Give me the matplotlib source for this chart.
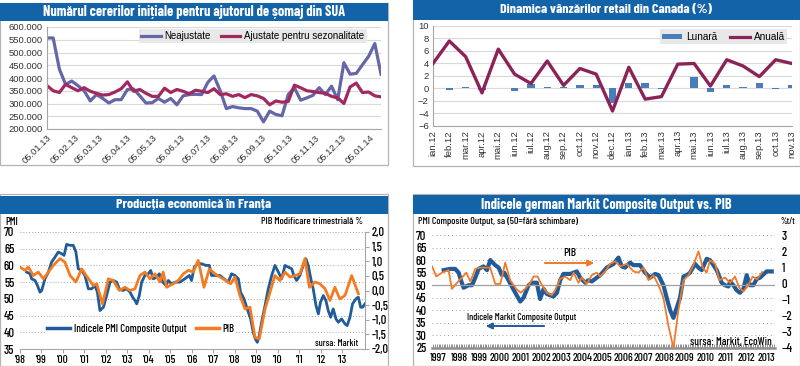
import numpy as np
import pandas as pd
import matplotlib
matplotlib.use('Agg')
import matplotlib.pyplot as plt
import matplotlib.dates as mdates
from matplotlib.patches import Rectangle, FancyArrowPatch, Patch
from matplotlib.lines import Line2D
from matplotlib.ticker import FuncFormatter

# ---------------- date ----------------
# SUA - cereri initiale de ajutor de somaj (saptamanal)
claims_dates = pd.date_range('2013-01-05', periods=55, freq='7D')
claims_nsa = [557, 557, 435, 375, 388, 370, 350, 310, 335, 320, 302, 315, 315, 355,
              357, 330, 302, 303, 320, 305, 320, 295, 330, 335, 336, 335, 383, 408,
              350, 280, 288, 283, 280, 280, 270, 228, 270, 257, 252, 335, 362, 313,
              322, 332, 362, 335, 368, 315, 460, 415, 418, 452, 485, 535, 415]
claims_sa = [370, 350, 343, 375, 362, 350, 362, 348, 340, 333, 335, 345, 358, 385,
             348, 355, 340, 328, 328, 360, 343, 355, 348, 338, 352, 348, 343, 358,
             335, 338, 328, 335, 323, 335, 330, 320, 295, 310, 305, 308, 372, 362,
             350, 347, 343, 340, 328, 322, 300, 365, 380, 343, 345, 330, 326]

# Canada - vanzari retail (%)
ca_months = ['ian.12', 'feb.12', 'mar.12', 'apr.12', 'mai.12', 'iun.12', 'iul.12',
             'aug.12', 'sep.12', 'oct.12', 'nov.12', 'dec.12', 'ian.13', 'feb.13',
             'mar.13', 'apr.13', 'mai.13', 'iun.13', 'iul.13', 'aug.13', 'sep.13',
             'oct.13', 'nov.13']
ca_lunara = [0.05, -0.3, 0.2, -0.3, 0.15, -0.4, 0.7, 0.2, 0.2, 0.5, 0.5, -2.3,
             0.9, 0.9, -0.1, 0.15, 1.8, -0.6, 0.5, 0.2, 0.9, -0.1, 0.6]
ca_anuala = [4.0, 7.6, 5.1, -0.7, 6.3, 2.3, 0.8, 4.4, 0.5, 3.2, 2.3, -3.6,
             3.4, -1.7, -1.3, 3.9, 4.0, 0.4, 4.6, 3.6, 1.9, 4.6, 4.0]

# Franta - PMI composite (lunar) si PIB (trimestrial, %)
fr_pmi_t = [1998.31, 1998.47, 1998.54, 1998.70, 1998.81, 1998.93, 1999.01, 1999.16,
            1999.32, 1999.47, 1999.63, 1999.78, 1999.94, 2000.05, 2000.17, 2000.33,
            2000.48, 2000.60, 2000.71, 2000.87, 2001.02, 2001.18, 2001.33, 2001.49,
            2001.60, 2001.72, 2001.88, 2002.03, 2002.19, 2002.34, 2002.50, 2002.62,
            2002.78, 2002.96, 2003.12, 2003.24, 2003.35, 2003.43, 2003.55, 2003.66,
            2003.81, 2003.97, 2004.08, 2004.20, 2004.36, 2004.48, 2004.64, 2004.79,
            2004.90, 2005.05, 2005.21, 2005.44, 2005.67, 2005.88, 2005.98, 2006.11,
            2006.26, 2006.45, 2006.65, 2006.81, 2006.91, 2007.12, 2007.30, 2007.49,
            2007.69, 2007.84, 2008.00, 2008.16, 2008.26, 2008.42, 2008.57, 2008.73,
            2008.85, 2008.95, 2009.04, 2009.13, 2009.24, 2009.40, 2009.55, 2009.71,
            2009.86, 2010.02, 2010.17, 2010.33, 2010.48, 2010.64, 2010.74, 2010.87,
            2011.02, 2011.15, 2011.30, 2011.41, 2011.53, 2011.64, 2011.77, 2011.88,
            2011.98, 2012.11, 2012.23, 2012.34, 2012.45, 2012.57, 2012.70, 2012.81,
            2012.96, 2013.12, 2013.22, 2013.35, 2013.47, 2013.63, 2013.74, 2013.85,
            2013.94, 2014.05]
fr_pmi = [58, 57.5, 56, 55.5, 54, 52, 52.5, 56, 58, 61, 62.5, 64, 63.5, 63, 66.3, 66,
          66, 64, 59, 58.5, 57, 53, 53, 54, 52, 46.5, 47.5, 51, 55, 55.5, 55, 53,
          52.5, 53, 52, 50.5, 49.5, 48.5, 51, 55, 57, 57.5, 58.5, 56, 56.5, 57.5, 55, 54,
          55.5, 54.5, 55, 55, 56, 57, 55.5, 59.5, 60.5, 60.5, 60, 60, 57, 57, 57, 56,
          55, 57.5, 57, 56, 52, 50, 47, 44, 40, 38, 37, 39, 43, 48, 53, 57,
          60, 58, 56, 60, 59.5, 59, 57, 55.5, 57, 59.5, 62, 60, 56, 53, 48, 45.5,
          49, 51, 49.5, 46.5, 44.5, 47, 44, 43, 44, 42.5, 42, 44.5, 48.5, 50, 50.5, 47.5,
          47.5, 48.5]
fr_pib_t = [1998.00, 1998.23, 1998.39, 1998.62, 1998.85, 1999.09, 1999.32, 1999.55,
            1999.86, 2000.09, 2000.33, 2000.60, 2000.87, 2001.13, 2001.41, 2001.57,
            2001.84, 2002.11, 2002.34, 2002.62, 2002.88, 2003.12, 2003.35, 2003.58,
            2003.81, 2004.05, 2004.28, 2004.51, 2004.66, 2004.82, 2005.13, 2005.36,
            2005.60, 2005.83, 2006.06, 2006.29, 2006.56, 2006.81, 2007.07, 2007.30,
            2007.58, 2007.80, 2008.00, 2008.23, 2008.47, 2008.70, 2008.93, 2009.13,
            2009.40, 2009.63, 2009.86, 2010.09, 2010.33, 2010.56, 2010.79, 2011.02,
            2011.26, 2011.46, 2011.72, 2011.95, 2012.19, 2012.42, 2012.65, 2012.88,
            2013.12, 2013.43, 2013.74]
fr_pib = [0.80, 0.69, 0.80, 0.51, 0.63, 0.40, 0.63, 0.86, 1.09, 0.97, 0.51, 0.29,
          0.74, 0.46, 0.17, 0.23, -0.46, 0.40, 0.34, 0.00, 0.11, 0.00, 0.06, 0.51,
          0.63, 0.40, 0.57, 0.29, 0.63, 0.11, 0.23, 0.34, 0.57, 0.69, 0.63, 1.03,
          0.11, 0.74, 0.57, 0.46, 0.34, 0.23, 0.46, -0.17, -0.63, -0.57, -1.60, -1.66,
          -0.63, -0.06, 0.51, 0.34, 0.63, 0.46, 0.51, 0.57, 1.09, 0.11, 0.29, 0.23,
          0.06, -0.34, 0.11, -0.29, -0.17, 0.51, -0.11]

# Germania - PMI composite si PIB (%t/t)
de_pmi_t = [1997.75, 1998.07, 1998.31, 1998.48, 1998.59, 1998.72, 1998.96, 1999.13,
            1999.29, 1999.45, 1999.69, 1999.86, 2000.02, 2000.26, 2000.43, 2000.59,
            2000.70, 2000.91, 2001.07, 2001.24, 2001.48, 2001.64, 2001.89, 2002.05,
            2002.29, 2002.45, 2002.62, 2002.78, 2003.10, 2003.27, 2003.43, 2003.59,
            2003.92, 2004.24, 2004.40, 2004.65, 2004.81, 2004.97, 2005.21, 2005.38,
            2005.70, 2006.03, 2006.27, 2006.43, 2006.59, 2006.84, 2007.00, 2007.32,
            2007.57, 2007.81, 2008.06, 2008.22, 2008.46, 2008.62, 2008.79, 2008.95,
            2009.11, 2009.27, 2009.44, 2009.60, 2009.76, 2010.00, 2010.17, 2010.33,
            2010.57, 2010.73, 2010.90, 2011.06, 2011.30, 2011.46, 2011.63, 2011.71,
            2011.87, 2012.03, 2012.19, 2012.36, 2012.52, 2012.68, 2012.84, 2013.01,
            2013.17, 2013.49, 2013.74]
de_pmi = [56, 56.5, 56.5, 55, 52, 49, 50, 50, 53, 56.5, 57.5, 56, 60, 58, 57, 54,
          55, 52, 49.5, 47, 43.5, 45, 50, 51, 51, 44.5, 48.5, 46.5, 45.5, 47, 52, 54.5,
          54.5, 55.5, 53, 51, 52, 51.5, 53, 54, 57, 58.5, 61, 57.5, 57, 59, 58, 58,
          55, 53, 54.5, 54, 50, 45, 40, 37, 41, 45, 53.5, 54, 55, 58.5, 57, 56,
          60.5, 60, 58, 56, 51, 50, 49.5, 51.5, 50, 48, 47, 48.5, 54, 50, 50, 52.5,
          53, 55.5, 55.5]
de_pib_t = [1997.18, 1997.39, 1997.67, 1997.99, 1998.15, 1998.40, 1998.64, 1998.85,
            1999.05, 1999.29, 1999.53, 1999.82, 2000.02, 2000.26, 2000.51, 2000.75,
            2000.99, 2001.29, 2001.51, 2001.77, 2001.97, 2002.13, 2002.32, 2002.54,
            2002.78, 2003.02, 2003.18, 2003.43, 2003.67, 2003.92, 2004.08, 2004.32,
            2004.48, 2004.73, 2004.97, 2005.21, 2005.38, 2005.62, 2005.86, 2006.11,
            2006.35, 2006.68, 2007.00, 2007.24, 2007.49, 2007.73, 2007.97, 2008.22,
            2008.46, 2008.70, 2008.95, 2009.19, 2009.44, 2009.68, 2009.92, 2010.17,
            2010.38, 2010.57, 2010.73, 2010.98, 2011.19, 2011.46, 2011.71, 2011.95,
            2012.16, 2012.36, 2012.60, 2012.81, 2013.02, 2013.27]
de_pib = [1.06, 0.43, 0.67, 0.82, -0.34, 0.04, 0.36, 0.67, 0.12, 0.90, 0.98, 0.98,
          0.98, -0.03, -0.03, 1.29, 0.20, -0.34, -0.58, -0.27, 0.04, 0.43, 0.43, -0.11,
          -0.58, -0.73, -0.42, 0.28, 0.43, 0.20, 0.67, 0.04, 0.36, -0.03, 0.51, 0.67,
          0.43, 0.74, 1.21, 1.37, 1.06, 1.21, 0.74, 0.67, 0.98, 0.20, 0.51, -0.11,
          -0.89, -2.60, -4.00, -1.67, 0.20, 0.51, 1.13, 1.99, 0.98, 0.67, 1.44, 1.21,
          0.20, 0.36, 0.04, 0.43, -0.27, -0.50, -0.11, 0.43, 0.25, 0.70]

# ---------------- figura ----------------
W, H = 800, 366
NARROW = ['Barlow Condensed', 'Archivo Narrow', 'Liberation Sans', 'DejaVu Sans']
TITLEF = ['Barlow Condensed', 'Liberation Sans', 'DejaVu Sans']
plt.rcParams['font.family'] = ['Liberation Sans', 'DejaVu Sans']
BAR = '#1263A7'
GRID = '#D9D9D9'
AXC = '#A6A6A6'

fig = plt.figure(figsize=(8, 3.66), dpi=100)
fig.patch.set_facecolor('white')
renderer = fig.canvas.get_renderer()


def box(x0, y0, x1, y1):
    # coordonate in pixeli (origine sus-stanga) -> dreptunghi in figura
    return [x0 / W, 1 - y1 / H, (x1 - x0) / W, (y1 - y0) / H]


def fpt(x, y):
    return (x / W, 1 - y / H)


def fit(t, width, cap=None):
    # marimea fontului aleasa ca textul sa aiba latimea din original
    w = t.get_window_extent(renderer).width
    fs = t.get_fontsize() * width / w
    if cap is not None:
        fs = min(cap, fs)
    t.set_fontsize(fs)
    return t


def label(x, y, text, width, ha='left', **kw):
    t = fig.text(x / W, 1 - y / H, text, family=NARROW, fontweight='medium', fontsize=8,
                 va='center', ha=ha, **kw)
    return fit(t, width, cap=9)


def narrow_ticks(labels):
    for lab in labels:
        lab.set_family(NARROW)
        lab.set_fontweight('medium')


def panel(x0, y0, x1, y1):
    fig.add_artist(Rectangle(fpt(x0, y1), (x1 - x0) / W, (y1 - y0) / H, transform=fig.transFigure,
                             facecolor='none', edgecolor='#B4B4B4', lw=0.9))


def title_bar(x0, y0, x1, y1, text, width):
    fig.add_artist(Rectangle(fpt(x0, y1), (x1 - x0) / W, (y1 - y0) / H, transform=fig.transFigure,
                             facecolor=BAR, edgecolor='none'))
    t = fig.text((x0 + x1) / 2 / W, 1 - (y0 + y1) / 2 / H, text, color='white',
                 fontsize=11, fontweight='bold', family=TITLEF, ha='center', va='center')
    fit(t, width, cap=12.5)


panel(0, 3, 388, 165)
panel(413, 0, 799.5, 166)
panel(0, 194, 388, 365.5)
panel(413, 194, 799.5, 365.5)
title_bar(0, 3, 388, 21, 'Numărul cererilor inițiale pentru ajutorul de șomaj din SUA', 303)
title_bar(413, 0, 800, 20, 'Dinamica vânzărilor retail din Canada (%)', 213)
title_bar(0, 196, 388, 214, 'Producția economică în Franța', 157)
title_bar(413, 195, 800, 214, 'Indicele german Markit Composite Output vs. PIB', 251)

# ---------- SUA ----------
ax1 = fig.add_axes(box(47, 27, 381, 129))
ax1.plot(claims_dates, np.array(claims_nsa) * 1000, color='#6566A8', lw=2.3, label='Neajustate')
ax1.plot(claims_dates, np.array(claims_sa) * 1000, color='#A2295F', lw=2.3,
         label='Ajustate pentru sezonalitate')
ax1.set_ylim(200000, 600000)
ax1.set_yticks(np.arange(200000, 600001, 50000))
ax1.yaxis.set_major_formatter(FuncFormatter(lambda v, p: f'{v:,.0f}'.replace(',', '.')))
ax1.set_xlim(claims_dates[0], claims_dates[-1])
ax1.xaxis.set_major_locator(mdates.MonthLocator(bymonthday=5))
ax1.xaxis.set_major_formatter(mdates.DateFormatter('%d.%m.%y'))
ax1.tick_params(labelsize=6.8, length=0, pad=3, colors='#333333')
plt.setp(ax1.get_xticklabels(), rotation=45, ha='right', rotation_mode='anchor')
ax1.grid(axis='y', color=GRID, lw=0.8)
ax1.set_axisbelow(True)
for s in ['top', 'right']:
    ax1.spines[s].set_visible(False)
for s in ['left', 'bottom']:
    ax1.spines[s].set_color(AXC)
    ax1.spines[s].set_linewidth(0.8)
ax1.legend(loc='upper left', bbox_to_anchor=(0.275, 0.985), ncol=2, fontsize=7.0,
           frameon=True, facecolor='#E8E8E8', edgecolor='none', fancybox=False,
           framealpha=1, borderpad=0.25, handlelength=2.0, handletextpad=0.4,
           columnspacing=1.0, borderaxespad=0)

# ---------- Canada ----------
ax2 = fig.add_axes(box(433, 26, 792, 126))
xc = np.arange(len(ca_months))
ax2.bar(xc, ca_lunara, width=0.45, color='#4A7EBB', zorder=2)
ax2.plot(xc, ca_anuala, color='#8B2356', lw=2.4, zorder=3)
ax2.set_xlim(0, len(ca_months) - 1)
ax2.set_ylim(-6, 10)
ax2.set_yticks(np.arange(-6, 11, 2))
ax2.set_xticks(xc)
ax2.set_xticklabels(ca_months, rotation=90)
ax2.tick_params(labelsize=6.8, length=0, pad=3, colors='#333333')
ax2.grid(axis='y', color=GRID, lw=0.8)
ax2.set_axisbelow(True)
for s in ['top', 'right']:
    ax2.spines[s].set_visible(False)
for s in ['left', 'bottom']:
    ax2.spines[s].set_color(AXC)
    ax2.spines[s].set_linewidth(0.8)
h2 = [Patch(facecolor='#4A7EBB'), Line2D([], [], color='#8B2356', lw=2.3)]
ax2.legend(h2, ['Lunară', 'Anuală'], loc='upper left', bbox_to_anchor=(0.632, 0.965), ncol=2,
           fontsize=7.2, frameon=True, facecolor='#E8E8E8', edgecolor='none', fancybox=False,
           framealpha=1, borderpad=0.25, handlelength=2.0, handleheight=0.5, handletextpad=0.4,
           columnspacing=1.2, borderaxespad=0)

# ---------- Franta ----------
ax3 = fig.add_axes(box(20, 232, 365, 349))
ax3.plot(fr_pmi_t, fr_pmi, color='#1F5C99', lw=2.0)
ax3.set_xlim(1998, 2014.05)
ax3.set_ylim(35, 70)
ax3.set_yticks(np.arange(35, 71, 5))
ax3.set_xticks(np.arange(1998, 2014))
ax3.set_xticklabels(["'%02d" % (y % 100) for y in range(1998, 2014)])
ax3.grid(axis='y', color='#A0A0A0', lw=0.7, ls=(0, (1, 2)))
ax3.tick_params(axis='x', labelsize=8.2, length=3, color=AXC, pad=1)
ax3.tick_params(axis='y', labelsize=9, length=0, pad=4)
narrow_ticks(ax3.get_xticklabels() + ax3.get_yticklabels())
ax3.spines['top'].set_visible(False)
ax3.spines['left'].set_visible(False)
ax3.spines['right'].set_color(AXC)
ax3.spines['bottom'].set_color(AXC)

ax3b = ax3.twinx()
ax3b.plot(fr_pib_t, fr_pib, color='#F47B20', lw=2.0)
ax3b.set_ylim(-2, 2)
ax3b.set_yticks(np.arange(-2, 2.01, 0.5))
ax3b.yaxis.set_major_formatter(FuncFormatter(lambda v, p: f'{v:.1f}'.replace('.', ',')))
ax3b.tick_params(axis='y', labelsize=9, length=3, color=AXC, pad=2)
narrow_ticks(ax3b.get_yticklabels())
for s in ['top', 'left', 'bottom', 'right']:
    ax3b.spines[s].set_visible(False)
h3 = [Line2D([], [], color='#1F5C99', lw=2.5), Line2D([], [], color='#F47B20', lw=2.5)]
ax3b.legend(h3, ['Indicele PMI Composite Output', 'PIB'], loc='center left',
            bbox_to_anchor=(0.075, 0.17), ncol=2, frameon=True, facecolor='white',
            edgecolor='none', fancybox=False, framealpha=1, handlelength=2.2,
            handletextpad=0.3, columnspacing=0.9, borderpad=0.1, borderaxespad=0,
            prop={'family': NARROW, 'size': 7.7, 'weight': 'medium'})
label(5, 222, 'PMI', 13)
label(363, 222, 'PIB Modificare trimestrială %', 103, ha='right')
label(315, 343, 'sursa: Markit', 43)

# ---------- Germania ----------
ax4 = fig.add_axes(box(432, 235, 775, 348))
ax4.plot(de_pmi_t, de_pmi, color='#1F5C99', lw=3.0)
ax4.set_xlim(1997.18, 2013.9)
ax4.set_ylim(25, 70)
ax4.set_yticks(np.arange(25, 71, 5))
ax4.axhline(50, color='#A0A0A0', lw=0.9)
ax4.grid(axis='y', color='#A0A0A0', lw=0.7, ls=(0, (1, 3)))
ax4.set_xticks(np.arange(1998, 2014))
ax4.set_xticks(np.arange(1997.25, 2013.9, 1 / 12), minor=True)
ax4.xaxis.set_major_formatter(FuncFormatter(lambda v, p: ''))
ax4.tick_params(axis='x', which='both', length=3, width=0.7, color='#909090', direction='in')
ax4.tick_params(axis='y', labelsize=9, length=0, pad=4)
narrow_ticks(ax4.get_yticklabels())
for yr in range(1997, 2014):
    ax4.text(yr + 0.5, -0.045, str(yr), transform=ax4.get_xaxis_transform(), ha='center',
             va='top', fontsize=8.2, family=NARROW, fontweight='medium')
for s in ['top', 'left', 'right']:
    ax4.spines[s].set_visible(False)
ax4.spines['bottom'].set_color('#909090')
ax4.spines['bottom'].set_linewidth(1.8)

ax4b = ax4.twinx()
ax4b.plot(de_pib_t, de_pib, color='#F07A2A', lw=1.3)
ax4b.set_ylim(-4, 3)
ax4b.set_yticks(np.arange(-4, 4, 1))
ax4b.tick_params(axis='y', labelsize=9, length=0, pad=5)
narrow_ticks(ax4b.get_yticklabels())
for s in ['top', 'left', 'bottom', 'right']:
    ax4b.spines[s].set_visible(False)

label(418, 222, 'PMI Composite Output, sa (50=fără schimbare)', 160)
label(795, 222, '%t/t', 15, ha='right')
label(570, 253, 'PIB', 13, ha='center')
fig.add_artist(FancyArrowPatch(fpt(542, 263), fpt(597, 263), transform=fig.transFigure,
                               arrowstyle='-|>', mutation_scale=9, lw=1.4, color='#F07A2A'))
label(522, 317, 'Indicele Markit Composite Output', 110, ha='center')
fig.add_artist(FancyArrowPatch(fpt(547, 326), fpt(483, 326), transform=fig.transFigure,
                               arrowstyle='-|>', mutation_scale=9, lw=1.4, color='#1F5C99'))
label(690, 342, 'sursa: Markit, EcoWin', 82)

fig.savefig('out.png', dpi=100)
